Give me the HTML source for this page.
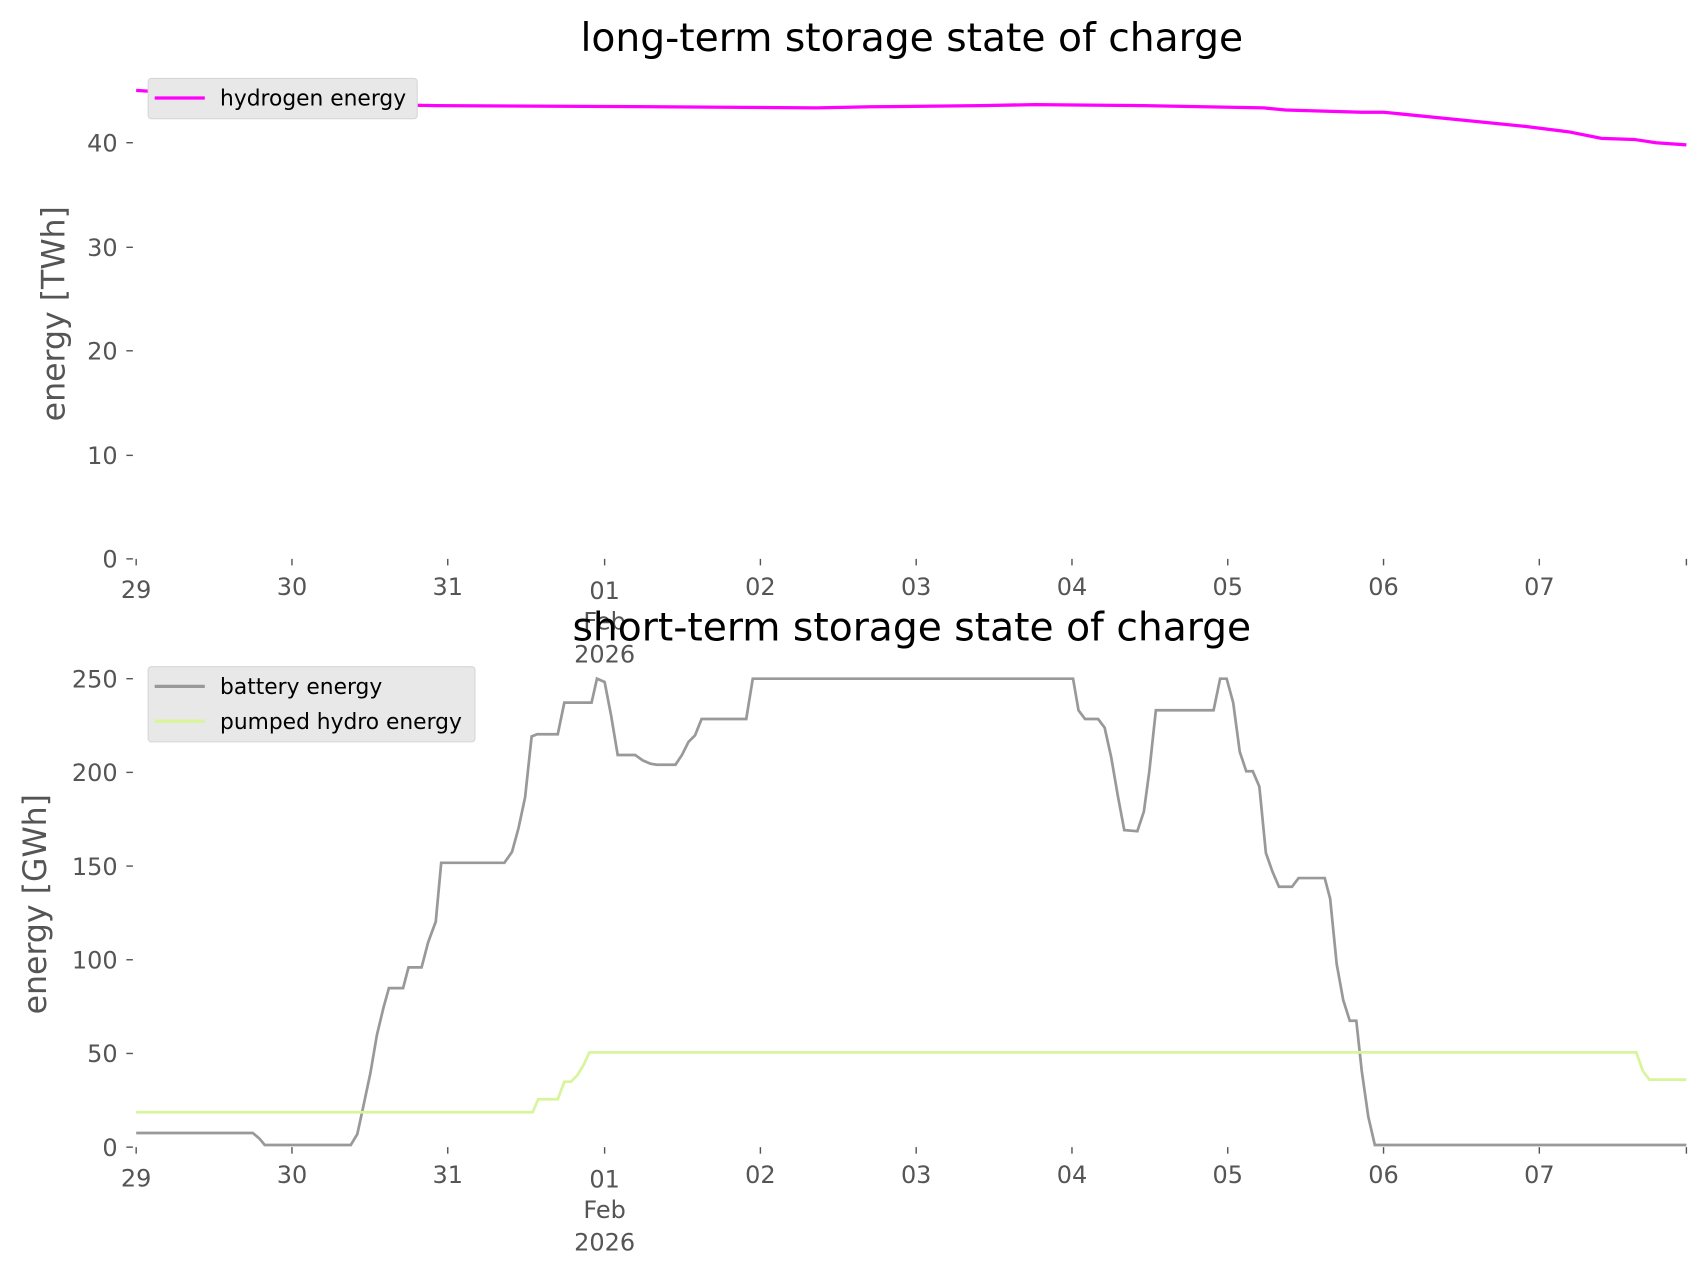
<!DOCTYPE html>
<html><head><meta charset="utf-8"><style>html,body{margin:0;padding:0;background:#fff}svg{display:block}</style></head>
<body>
<svg width="1706" height="1277" viewBox="0 0 1566 1172.2" xmlns="http://www.w3.org/2000/svg" font-family="DejaVu Sans, Liberation Sans, sans-serif">
<rect width="1566" height="1173" fill="#fff"/>
<text x="837" y="47" font-size="36" text-anchor="middle" fill="#000">long-term storage state of charge</text>
<g fill="#555" font-size="22" text-anchor="end">
<text x="108" y="521">0</text><text x="108" y="426">10</text><text x="108" y="330">20</text><text x="108" y="235">30</text><text x="108" y="139">40</text>
</g>
<g stroke="#555" stroke-width="1.3">
<line x1="116" y1="513" x2="122" y2="513"/><line x1="116" y1="418" x2="122" y2="418"/><line x1="116" y1="322" x2="122" y2="322"/><line x1="116" y1="227" x2="122" y2="227"/><line x1="116" y1="131" x2="122" y2="131"/>
</g>
<text transform="translate(59,288) rotate(-90)" font-size="29" fill="#555" text-anchor="middle">energy [TWh]</text>
<polyline fill="none" stroke="#ff00ff" stroke-width="3" points="125,83 200,88 300,95 400,97 600,98 750,99 800,98 900,97 950,96 1050,97 1160,99 1180,101 1250,103 1270,103 1330,109 1400,116 1440,121 1470,127 1500,128 1520,131 1548,133"/>
<rect x="136" y="72" width="247" height="37" rx="3" fill="#e8e8e8" stroke="#d6d6d6"/>
<line x1="142" y1="90" x2="188" y2="90" stroke="#ff00ff" stroke-width="3"/>
<text x="202" y="97" font-size="20" fill="#000">hydrogen energy</text>

<g id="xt">
<g stroke="#555" stroke-width="1.3">
<line x1="125" y1="513" x2="125" y2="519"/><line x1="268" y1="513" x2="268" y2="519"/><line x1="411" y1="513" x2="411" y2="519"/><line x1="555" y1="513" x2="555" y2="519"/><line x1="698" y1="513" x2="698" y2="519"/><line x1="841" y1="513" x2="841" y2="519"/><line x1="984" y1="513" x2="984" y2="519"/><line x1="1127" y1="513" x2="1127" y2="519"/><line x1="1270" y1="513" x2="1270" y2="519"/><line x1="1413" y1="513" x2="1413" y2="519"/><line x1="1548" y1="513" x2="1548" y2="519"/>
</g>
<g fill="#555" font-size="22" text-anchor="middle">
<text x="125" y="549">29</text><text x="268" y="546">30</text><text x="411" y="546">31</text><text x="555" y="550">01</text><text x="555" y="578">Feb</text><text x="555" y="608">2026</text><text x="698" y="546">02</text><text x="841" y="546">03</text><text x="984" y="546">04</text><text x="1127" y="546">05</text><text x="1270" y="546">06</text><text x="1413" y="546">07</text>
</g>
</g>
<use href="#xt" y="540"/>

<text x="837" y="588" font-size="36" text-anchor="middle" fill="#000">short-term storage state of charge</text>
<g fill="#555" font-size="22" text-anchor="end">
<text x="108" y="1061">0</text><text x="108" y="975">50</text><text x="108" y="889">100</text><text x="108" y="803">150</text><text x="108" y="717">200</text><text x="108" y="631">250</text>
</g>
<g stroke="#555" stroke-width="1.3">
<line x1="116" y1="1053" x2="122" y2="1053"/><line x1="116" y1="967" x2="122" y2="967"/><line x1="116" y1="881" x2="122" y2="881"/><line x1="116" y1="795" x2="122" y2="795"/><line x1="116" y1="709" x2="122" y2="709"/><line x1="116" y1="623" x2="122" y2="623"/>
</g>
<text transform="translate(42,830) rotate(-90)" font-size="29" fill="#555" text-anchor="middle">energy [GWh]</text>
<polyline fill="none" stroke="#999" stroke-width="2.5" points="125,1040 232,1040 238,1045 243,1051 322,1051 328,1041 333,1018 340,985 346,950 352,925 357,907 370,907 375,888 387,888 393,865 400,846 405,792 463,792 470,782 476,760 482,732 488,676 493,674 512,674 518,645 543,645 548,623 555,626 561,657 567,693 583,693 590,698 597,701 603,702 620,702 626,693 632,681 638,675 644,660 685,660 691,623 985,623 990,652 996,660 1008,660 1014,668 1020,695 1026,730 1032,762 1044,763 1050,745 1055,708 1061,652 1114,652 1120,623 1126,623 1132,645 1138,690 1144,708 1150,708 1156,722 1162,783 1168,800 1174,814 1186,814 1192,806 1216,806 1221,825 1227,885 1233,918 1239,937 1245,937 1250,983 1256,1025 1262,1051 1548,1051"/>
<polyline fill="none" stroke="#d9f59b" stroke-width="2.5" points="125,1021 489,1021 494,1009 512,1009 518,993 524,993 530,987 536,977 541,966 1502,966 1508,983 1514,991 1548,991"/>
<rect x="136" y="612" width="300" height="69" rx="3" fill="#e8e8e8" stroke="#d6d6d6"/>
<line x1="142" y1="630" x2="188" y2="630" stroke="#999" stroke-width="3"/>
<text x="202" y="637" font-size="20" fill="#000">battery energy</text>
<line x1="142" y1="662" x2="188" y2="662" stroke="#d9f59b" stroke-width="3"/>
<text x="202" y="669" font-size="20" fill="#000">pumped hydro energy</text>
</svg>
</body></html>
